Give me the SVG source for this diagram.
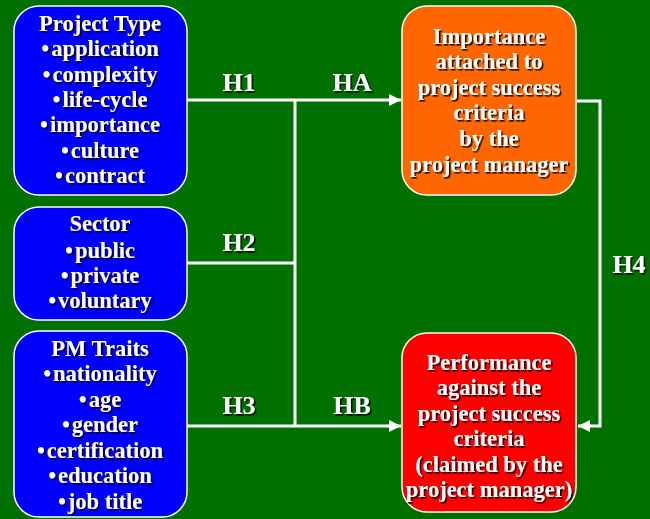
<svg xmlns="http://www.w3.org/2000/svg" width="650" height="519" viewBox="0 0 650 519">
  <defs>
    <filter id="shadow" x="-10%" y="-10%" width="130%" height="140%">
      <feDropShadow dx="1.6" dy="1.6" stdDeviation="0.4" flood-color="#000" flood-opacity="0.9"/>
    </filter>
    <marker id="arrow" viewBox="0 0 12 12" refX="12" refY="6" markerWidth="12" markerHeight="12" markerUnits="userSpaceOnUse" orient="auto">
      <path d="M0,0 L12,6 L0,12 z" fill="#fff"/>
    </marker>
    <style>
      .box { stroke: #fff; stroke-width: 1.5; }
      .blue { fill: #0000ff; }
      .orange { fill: #ff6600; }
      .red { fill: #ff0000; }
      text { font-family: "Liberation Serif", "Times New Roman", serif; font-weight: bold; fill: #fff; text-anchor: middle; filter: url(#shadow); }
      .body { font-size: 22.5px; }
      .lab { font-size: 26px; }
      .wire { stroke: #fff; stroke-width: 3; fill: none; }
    </style>
  </defs>

  <rect width="650" height="519" fill="#007000"/>

  <!-- connectors -->
  <g id="connectors">
    <path class="wire" d="M187,100 H401" marker-end="url(#arrow)"/>
    <path class="wire" d="M295,100 V426"/>
    <path class="wire" d="M187,263 H295"/>
    <path class="wire" d="M187,426 H401" marker-end="url(#arrow)"/>
    <path class="wire" d="M577,101 H600 V426 H578" marker-end="url(#arrow)"/>
    <text class="lab" x="239" y="91">H1</text>
    <text class="lab" x="352" y="91">HA</text>
    <text class="lab" x="239" y="251">H2</text>
    <text class="lab" x="239" y="414">H3</text>
    <text class="lab" x="352" y="414">HB</text>
    <text class="lab" x="629" y="273">H4</text>
  </g>

  <!-- project type -->
  <g id="project-type">
    <rect class="box blue" x="14" y="6" width="173" height="189" rx="25"/>
    <text class="body" x="100" y="31">Project Type</text>
    <text class="body" x="100" y="56">•<tspan dx="2">application</tspan></text>
    <text class="body" x="100" y="82">•<tspan dx="2">complexity</tspan></text>
    <text class="body" x="100" y="107">•<tspan dx="2">life-cycle</tspan></text>
    <text class="body" x="100" y="132">•<tspan dx="2">importance</tspan></text>
    <text class="body" x="100" y="158">•<tspan dx="2">culture</tspan></text>
    <text class="body" x="100" y="183">•<tspan dx="2">contract</tspan></text>
  </g>

  <!-- sector -->
  <g id="sector">
    <rect class="box blue" x="14" y="207" width="173" height="113" rx="25"/>
    <text class="body" x="100" y="231">Sector</text>
    <text class="body" x="100" y="258">•<tspan dx="2">public</tspan></text>
    <text class="body" x="100" y="283">•<tspan dx="2">private</tspan></text>
    <text class="body" x="100" y="308">•<tspan dx="2">voluntary</tspan></text>
  </g>

  <!-- pm traits -->
  <g id="pm-traits">
    <rect class="box blue" x="14" y="331" width="173" height="186" rx="25"/>
    <text class="body" x="100" y="356">PM Traits</text>
    <text class="body" x="100" y="381">•<tspan dx="2">nationality</tspan></text>
    <text class="body" x="100" y="407">•<tspan dx="2">age</tspan></text>
    <text class="body" x="100" y="432">•<tspan dx="2">gender</tspan></text>
    <text class="body" x="100" y="458">•<tspan dx="2">certification</tspan></text>
    <text class="body" x="100" y="483">•<tspan dx="2">education</tspan></text>
    <text class="body" x="100" y="509">•<tspan dx="2">job title</tspan></text>
  </g>

  <!-- importance -->
  <g id="importance">
    <rect class="box orange" x="402" y="6" width="174" height="189" rx="25"/>
    <text class="body" x="489" y="44">Importance</text>
    <text class="body" x="489" y="69">attached to</text>
    <text class="body" x="489" y="95">project success</text>
    <text class="body" x="489" y="120">criteria</text>
    <text class="body" x="489" y="146">by the</text>
    <text class="body" x="489" y="172">project manager</text>
  </g>

  <!-- performance -->
  <g id="performance">
    <rect class="box red" x="402" y="333" width="174" height="179" rx="25"/>
    <text class="body" x="489" y="370">Performance</text>
    <text class="body" x="489" y="395">against the</text>
    <text class="body" x="489" y="421">project success</text>
    <text class="body" x="489" y="446">criteria</text>
    <text class="body" x="489" y="472">(claimed by the</text>
    <text class="body" x="489" y="497">project manager)</text>
  </g>
</svg>
